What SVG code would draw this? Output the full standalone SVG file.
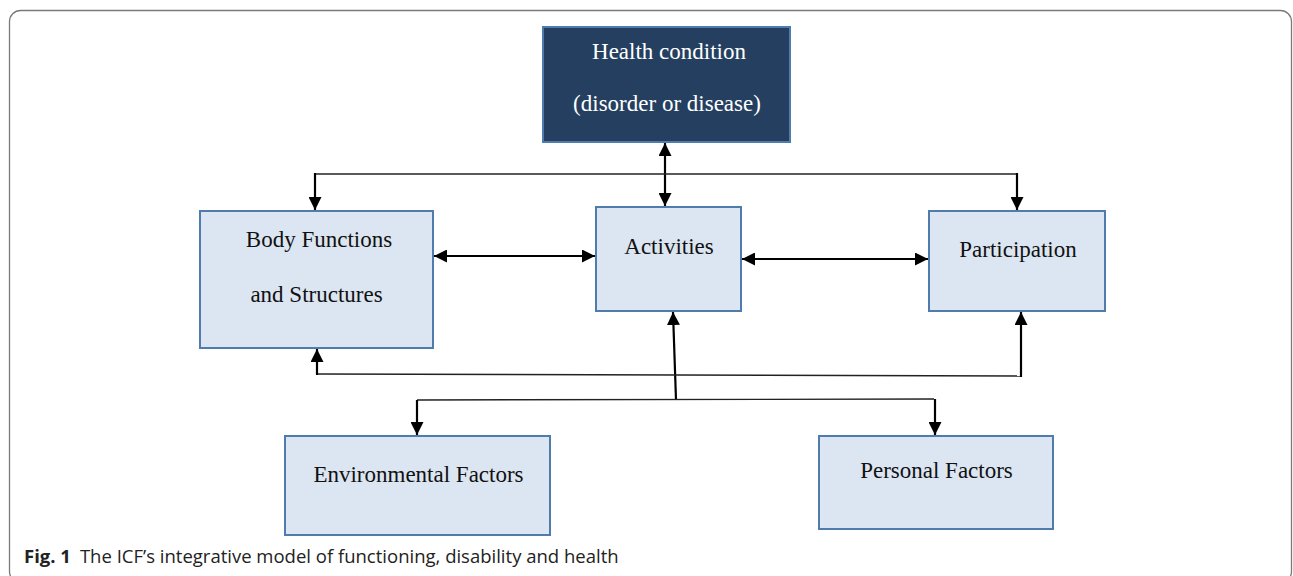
<svg xmlns="http://www.w3.org/2000/svg" width="1293" height="576" viewBox="0 0 1293 576">
<defs>
<style>
.frame{fill:#fff;stroke:#7a7a7a;stroke-width:1.3}
.box{fill:#dce6f2;stroke:#4f7cac;stroke-width:2}
.dark{fill:#243f60;stroke:#4f7cac;stroke-width:2}
.t{font-family:"Liberation Serif","Times New Roman",serif;font-size:23px;fill:#111;text-anchor:middle}
.tw{fill:#fff}
.thin{fill:none;stroke:#222;stroke-width:1.4}
.arr{fill:none;stroke:#000;stroke-width:2.2}
.cap{font-family:"Open Sans","Liberation Sans",sans-serif;font-size:18.5px;fill:#222}
</style>
<marker id="ah" viewBox="0 0 13 13" refX="13" refY="6.5" markerWidth="13" markerHeight="13" markerUnits="userSpaceOnUse" orient="auto-start-reverse">
<path d="M0,0 L13,6.5 L0,13 Z" fill="#000"/>
</marker>
</defs>
<rect class="frame" x="9.5" y="10.5" width="1282" height="572" rx="11"/>

<g id="connectors">
<line class="arr" x1="665" y1="143" x2="665" y2="206" marker-start="url(#ah)" marker-end="url(#ah)"/>
<polyline class="thin" points="315,174 1017,174"/>
<line class="arr" x1="315" y1="173" x2="315" y2="210" marker-end="url(#ah)"/>
<line class="arr" x1="1017" y1="173" x2="1017" y2="210" marker-end="url(#ah)"/>
<line class="arr" x1="434" y1="256" x2="595" y2="256" marker-start="url(#ah)" marker-end="url(#ah)"/>
<line class="arr" x1="742" y1="259" x2="928" y2="259" marker-start="url(#ah)" marker-end="url(#ah)"/>
<line class="arr" x1="676" y1="400" x2="673" y2="312" marker-end="url(#ah)"/>
<polyline class="thin" points="317,374 1021,376"/>
<line class="arr" x1="317" y1="375" x2="317" y2="349" marker-end="url(#ah)"/>
<line class="arr" x1="1021" y1="377" x2="1021" y2="312" marker-end="url(#ah)"/>
<polyline class="thin" points="417,400 934,399"/>
<line class="arr" x1="417" y1="400" x2="417" y2="435" marker-end="url(#ah)"/>
<line class="arr" x1="935" y1="399" x2="935" y2="435" marker-end="url(#ah)"/>
</g>

<g id="health">
<rect class="dark" x="543" y="27" width="247" height="115"/>
<text class="t tw" x="669" y="59">Health condition</text>
<text class="t tw" x="667" y="111">(disorder or disease)</text>
</g>
<g id="body">
<rect class="box" x="200" y="211" width="233" height="137"/>
<text class="t" x="319" y="247">Body Functions</text>
<text class="t" x="316.5" y="302">and Structures</text>
</g>
<g id="activities">
<rect class="box" x="596" y="207" width="145" height="104"/>
<text class="t" x="669" y="254">Activities</text>
</g>
<g id="participation">
<rect class="box" x="929" y="211" width="176" height="100"/>
<text class="t" x="1018" y="257">Participation</text>
</g>
<g id="environmental">
<rect class="box" x="285" y="436" width="265" height="99"/>
<text class="t" x="418.5" y="482">Environmental Factors</text>
</g>
<g id="personal">
<rect class="box" x="819" y="436" width="234" height="93"/>
<text class="t" x="936.5" y="478">Personal Factors</text>
</g>

<text class="cap" x="24" y="563"><tspan font-weight="bold">Fig. 1</tspan><tspan dx="9">The ICF’s integrative model of functioning, disability and health</tspan></text>
</svg>
